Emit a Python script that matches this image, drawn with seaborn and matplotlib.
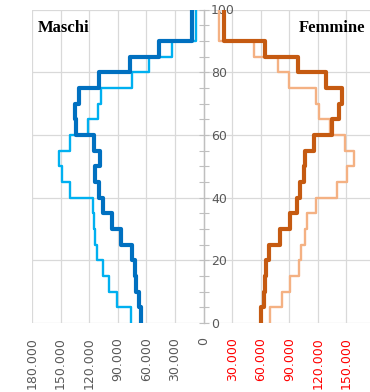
import matplotlib
matplotlib.use("Agg")
import matplotlib.pyplot as plt
from matplotlib.ticker import MultipleLocator
import seaborn as sns

# age classes: 0-4, 5-9, ..., 85-89, 90+
age_edges = [0, 5, 10, 15, 20, 25, 30, 35, 40, 45, 50, 55, 60, 65, 70, 75, 80, 85, 90, 100]

maschi_scuro = [65600, 68000, 71200, 72200, 74600, 86900, 95600, 105000, 109600, 114000,
                108500, 115400, 134000, 135000, 130500, 109600, 77100, 46800, 12200]
maschi_chiaro = [75700, 90300, 99000, 106000, 112300, 114000, 115400, 116000, 140000, 148000,
                 151400, 140000, 121700, 110600, 108000, 75500, 57500, 33000, 8000]
femmine_scuro = [60700, 63100, 64900, 65900, 69100, 80600, 90300, 98300, 100800, 105000,
                 106700, 115500, 134700, 142700, 145100, 128700, 99200, 64200, 21200]
femmine_chiaro = [69400, 82300, 90300, 99800, 102200, 106700, 108500, 117700, 139900, 150400,
                  158400, 149000, 132900, 120700, 118300, 89300, 78100, 52700, 16000]

x_ticks = list(range(-180000, 180001, 30000))

sns.set_theme(style="white")
plt.rcParams['font.family'] = ['DejaVu Sans']

fig = plt.figure(figsize=(3.7, 3.92), dpi=100)
ax = fig.add_axes([32 / 370, 69 / 392, 343 / 370, 313.5 / 392])


def step_line(values, sign, color, lw):
    xs = [sign * v for v in values] + [sign * values[-1]]
    sns.lineplot(x=xs, y=age_edges, sort=False, estimator=None, drawstyle="steps-pre",
                 color=color, lw=lw, ax=ax, zorder=3)


step_line(maschi_chiaro, -1, "#00B0F0", 1.7)
step_line(maschi_scuro, -1, "#0070C0", 3.0)
step_line(femmine_chiaro, 1, "#F4B183", 1.7)
step_line(femmine_scuro, 1, "#C55A11", 3.0)

ax.set_xlim(-180000, 180000)
ax.set_ylim(0, 100)

# grid
ax.set_xticks(x_ticks)
ax.yaxis.set_major_locator(MultipleLocator(20))
ax.yaxis.set_minor_locator(MultipleLocator(5))
ax.grid(True, which="major", color="#D9D9D9", lw=0.9, zorder=0)
ax.set_axisbelow(True)

# x tick labels
labels = ["0" if v == 0 else f"{abs(v):,}".replace(",", ".") for v in x_ticks]
ax.set_xticklabels(labels, rotation=90, fontsize=9)
for v, lab in zip(x_ticks, ax.get_xticklabels()):
    lab.set_color("#FF0000" if v > 0 else "#595959")
ax.tick_params(axis="x", length=0, pad=10)

# central age axis
for s in ["top", "bottom", "left"]:
    ax.spines[s].set_visible(False)
ax.spines["right"].set_position(("data", 0))
ax.spines["right"].set_color("#BFBFBF")
ax.spines["right"].set_linewidth(1)
ax.yaxis.tick_right()
ax.tick_params(axis="y", which="both", direction="inout", length=7, width=0.8,
               color="#BFBFBF", labelsize=9, labelcolor="#595959", pad=2)

ax.set_xlabel("")
ax.set_ylabel("")

ax.text(-174000, 92.8, "Maschi", family="Liberation Serif", fontweight="bold",
        fontsize=12, ha="left", va="baseline", color="black")
ax.text(169500, 92.8, "Femmine", family="Liberation Serif", fontweight="bold",
        fontsize=12, ha="right", va="baseline", color="black")

fig.savefig("out.png", dpi=100)
